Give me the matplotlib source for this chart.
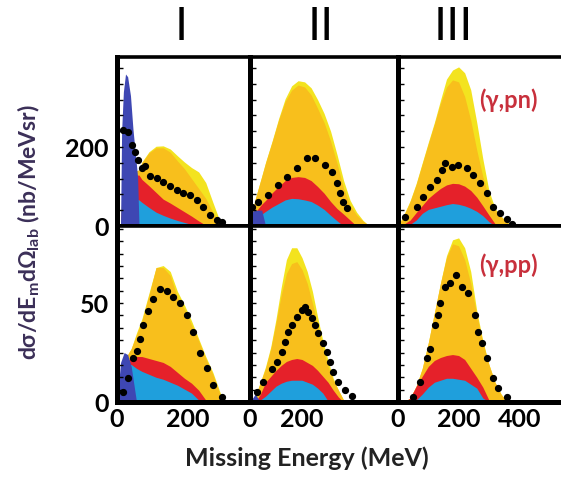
import matplotlib
matplotlib.use("Agg")
import matplotlib.pyplot as plt
from matplotlib.ticker import MultipleLocator, FixedLocator

plt.rcParams['font.family'] = ['Lato', 'DejaVu Sans']
plt.rcParams['mathtext.default'] = 'regular'

# ---- (gamma,pn), column I ----
e_pn1 = [0, 10, 13, 18, 24, 30, 38, 45, 52, 58, 62, 70, 90, 110, 130, 150, 170, 190, 210, 230, 250, 270, 290, 300]
dblue_pn1 = [0, 0, 240, 340, 385, 378, 330, 245, 180, 125, 0, 0, 0, 0, 0, 0, 0, 0, 0, 0, 0, 0, 0, 0]
blue_pn1 = [0, 0, 25, 40, 55, 62, 66, 68, 68, 67, 66, 60, 47, 35, 27, 20, 14, 9, 4, 2, 0, 0, 0, 0]
red_pn1 = [0, 0, 50, 85, 105, 118, 124, 127, 129, 129, 129, 118, 102, 85, 68, 58, 47, 36, 25, 13, 2, 0, 0, 0]
gold_pn1 = [0, 0, 60, 95, 115, 125, 132, 136, 139, 141, 142, 160, 185, 198, 198, 187, 165, 145, 120, 95, 70, 35, 5, 0]
yel_pn1 = [0, 0, 60, 95, 115, 125, 132, 136, 139, 141, 142, 162, 188, 202, 203, 195, 178, 162, 148, 137, 110, 60, 12, 0]
xd_pn1 = [18, 32, 41, 51, 60, 70, 78, 93, 112, 130, 149, 168, 187, 206, 224, 243, 262, 281, 295]
yd_pn1 = [243, 239, 205, 188, 167, 146, 152, 127, 121, 112, 101, 91, 84, 78, 66, 49, 28, 15, 9]

# ---- (gamma,pn), column II ----
e_pn2 = [0, 10, 20, 45, 60, 85, 110, 135, 160, 185, 210, 235, 260, 285, 310, 335, 360, 385, 410, 435, 460]
dblue_pn2 = [0, 38, 40, 40, 0, 0, 0, 0, 0, 0, 0, 0, 0, 0, 0, 0, 0, 0, 0, 0, 0]
blue_pn2 = [0, 0, 15, 30, 37, 48, 57, 66, 70, 69, 66, 62, 53, 42, 27, 13, 0, 0, 0, 0, 0]
red_pn2 = [0, 10, 35, 55, 65, 84, 100, 115, 123, 125, 123, 115, 100, 83, 62, 44, 30, 15, 0, 0, 0]
gold_pn2 = [0, 40, 68, 125, 160, 213, 268, 315, 344, 357, 352, 332, 298, 262, 215, 158, 95, 52, 28, 12, 0]
yel_pn2 = [0, 40, 68, 126, 162, 215, 272, 322, 355, 368, 365, 350, 320, 285, 240, 180, 115, 65, 35, 14, 0]
xd_pn2 = [6, 32, 71, 109, 141, 179, 218, 250, 288, 314, 333, 346, 359, 372]
yd_pn2 = [49, 62, 78, 104, 125, 146, 171, 171, 154, 138, 108, 83, 62, 45]

# ---- (gamma,pn), column III ----
e_pn3 = [0, 20, 40, 60, 80, 100, 120, 140, 160, 180, 200, 220, 240, 260, 280, 300, 320, 340, 360, 380]
dblue_pn3 = [0, 5, 5, 0, 0, 0, 0, 0, 0, 0, 0, 0, 0, 0, 0, 0, 0, 0, 0, 0]
blue_pn3 = [0, 0, 4, 15, 32, 42, 46, 50, 54, 57, 55, 51, 45, 37, 26, 11, 0, 0, 0, 0]
red_pn3 = [0, 5, 15, 34, 52, 70, 83, 95, 104, 108, 107, 101, 90, 73, 51, 28, 6, 0, 0, 0]
gold_pn3 = [0, 28, 62, 105, 157, 208, 258, 310, 352, 370, 365, 328, 268, 192, 125, 72, 41, 24, 9, 0]
yel_pn3 = [0, 30, 64, 108, 160, 212, 262, 318, 372, 395, 403, 388, 345, 262, 170, 90, 45, 25, 10, 0]
xd_pn3 = [22, 62, 84, 106, 128, 144, 155, 177, 199, 227, 249, 271, 293, 315, 337, 359, 375]
yd_pn3 = [24, 49, 74, 100, 116, 142, 159, 150, 154, 146, 129, 108, 83, 49, 32, 17, 4]

# ---- (gamma,pp), column I ----
e_pp1 = [0, 10, 20, 30, 40, 55, 70, 90, 110, 130, 150, 170, 190, 210, 230, 250, 270, 290, 300]
dblue_pp1 = [0, 20, 25, 24, 18, 0, 0, 0, 0, 0, 0, 0, 0, 0, 0, 0, 0, 0, 0]
blue_pp1 = [0, 10, 18, 19, 19, 17, 15.5, 14, 12.5, 11.5, 10, 8.5, 6.5, 4.5, 1, 0, 0, 0, 0]
red_pp1 = [0, 12, 20, 21, 22, 23, 23, 22, 21, 20, 18, 15, 12, 9.5, 6, 1, 0, 0, 0]
gold_pp1 = [0, 14, 21, 24, 27, 34, 41, 54, 68, 68, 64, 53, 47, 39, 31, 22, 14, 4, 0]
yel_pp1 = [0, 14, 21, 24, 27, 35, 42, 55, 68, 69, 66, 56, 49, 41, 32, 23, 15, 5, 0]
xd_pp1 = [18, 32, 45, 55, 65, 74, 88, 102, 121, 140, 159, 177, 196, 215, 234, 253, 271, 295]
yd_pp1 = [5, 12, 22, 26, 32, 39, 46, 52, 57, 56, 53, 50, 44, 35.5, 24.6, 17, 8.6, 2.7]

# ---- (gamma,pp), column II ----
e_pp2 = [0, 20, 40, 60, 80, 100, 120, 140, 160, 180, 200, 220, 240, 260, 280, 300, 320, 340, 360, 380, 400]
dblue_pp2 = [0, 4, 0, 0, 0, 0, 0, 0, 0, 0, 0, 0, 0, 0, 0, 0, 0, 0, 0, 0, 0]
blue_pp2 = [0, 0, 1, 3, 5.5, 8, 9.5, 10.5, 11, 11, 11, 10, 9, 7, 4.5, 0.5, 0, 0, 0, 0, 0]
red_pp2 = [0, 0, 4, 10, 13, 16, 18.5, 20.5, 21.5, 22, 21.5, 20, 18.5, 16, 13, 10, 6, 2.5, 0, 0, 0]
gold_pp2 = [0, 3, 10, 17, 27, 40, 54, 65, 70, 71, 67, 60, 50, 39, 27, 18, 11, 6, 1, 0, 0]
yel_pp2 = [0, 3, 10, 18, 28, 42, 58, 72, 78, 78, 73, 66, 56, 43, 31, 21, 12, 6, 1, 0, 0]
xd_pp2 = [26, 51, 83, 103, 122, 135, 147, 160, 180, 199, 212, 224, 237, 250, 263, 282, 295, 308, 321, 340, 365, 391]
yd_pp2 = [5.2, 10.3, 16.9, 20.4, 25.4, 30.3, 35.4, 38.7, 43.1, 46.5, 48.2, 45.6, 42.3, 38.7, 34.7, 29.6, 25.4, 20.4, 15.4, 10.3, 6.1, 3.2]

# ---- (gamma,pp), column III ----
e_pp3 = [0, 20, 40, 60, 80, 100, 120, 140, 160, 180, 200, 220, 240, 260, 280, 300, 320, 340, 360, 380]
dblue_pp3 = [0] * 20
blue_pp3 = [0, 0, 0, 1, 4, 7.5, 10, 11, 12, 12, 11.5, 11, 9, 7, 2, 0, 0, 0, 0, 0]
red_pp3 = [0, 0, 2, 8, 13, 18, 21, 22.5, 23.5, 24, 23.5, 21.5, 17, 12.5, 7.5, 1, 0, 0, 0, 0]
gold_pp3 = [0, 0, 2, 8, 17, 30, 45, 60, 73, 80, 79, 72, 60, 44, 30, 19, 10, 4, 0, 0]
yel_pp3 = [0, 0, 2, 8, 17, 30, 45, 60, 74, 82, 83, 78, 66, 46, 31, 19, 10, 4, 0, 0]
xd_pp3 = [51, 73, 95, 106, 122, 133, 139, 155, 172, 191, 210, 232, 254, 265, 276, 293, 315, 331, 359]
yd_pp3 = [2.7, 10, 22, 27, 39, 44, 50, 58, 60, 64, 58, 55, 44, 35.5, 30, 22, 12, 7, 2.7]

columns = ['I', 'II', 'III']
reactions = ['(\u03b3,pn)', '(\u03b3,pp)']

c_yel = '#f3e31f'
c_gold = '#f8bf1c'
c_red = '#e5212a'
c_blue = '#1f9fdc'
c_dblue = '#3e47b3'

W, H = 561, 480
fig = plt.figure(figsize=(W / 100, H / 100), dpi=100)

def fx(px):
    return px / W

def fy(py):
    return 1 - py / H

# panel edges in pixels
col_px = [(117, 250), (250, 398), (398, 600)]
row_px = [(57, 226), (226, 402)]
xscale = [0.355, 0.26, 0.303]      # pixels per MeV
ylims = [428, 89]

panels = [
    [(e_pn1, dblue_pn1, blue_pn1, red_pn1, gold_pn1, yel_pn1, xd_pn1, yd_pn1),
     (e_pn2, dblue_pn2, blue_pn2, red_pn2, gold_pn2, yel_pn2, xd_pn2, yd_pn2),
     (e_pn3, dblue_pn3, blue_pn3, red_pn3, gold_pn3, yel_pn3, xd_pn3, yd_pn3)],
    [(e_pp1, dblue_pp1, blue_pp1, red_pp1, gold_pp1, yel_pp1, xd_pp1, yd_pp1),
     (e_pp2, dblue_pp2, blue_pp2, red_pp2, gold_pp2, yel_pp2, xd_pp2, yd_pp2),
     (e_pp3, dblue_pp3, blue_pp3, red_pp3, gold_pp3, yel_pp3, xd_pp3, yd_pp3)],
]

tick_font = dict(family=['Lato', 'DejaVu Sans'], weight='bold', size=18)

for r in range(2):
    for c in range(3):
        x0, x1 = col_px[c]
        y0, y1 = row_px[r]
        ax = fig.add_axes([fx(x0), fy(y1), fx(x1 - x0), (y1 - y0) / H])
        e, db, bl, rd, gd, yl, xd, yd = panels[r][c]
        ax.fill_between(e, 0, yl, color=c_yel, lw=0)
        ax.fill_between(e, 0, gd, color=c_gold, lw=0)
        ax.fill_between(e, 0, rd, color=c_red, lw=0)
        ax.fill_between(e, 0, bl, color=c_blue, lw=0)
        ax.fill_between(e, 0, db, color=c_dblue, lw=0)
        ax.plot(xd, yd, 'o', color='black', ms=4.2, mec='black', zorder=5)

        ax.set_xlim(0, (x1 - x0) / xscale[c])
        ax.set_ylim(0, ylims[r])
        for s in ax.spines.values():
            s.set_linewidth(3.6)
            s.set_color('black')
        ax.spines['top'].set_linewidth(2.6)
        if c == 2:
            ax.spines['right'].set_visible(False)

        ax.tick_params(axis='x', length=0, pad=4)
        ax.set_xticks([0, 200, 400] if c == 2 else [0, 200])
        if r == 0:
            ax.set_xticklabels([])
        else:
            ax.set_xticklabels([str(v) for v in ax.get_xticks()], **tick_font)

        ax.tick_params(axis='y', which='both', direction='in', length=4, width=1, pad=6)
        if r == 0:
            ax.yaxis.set_major_locator(FixedLocator([0, 200]))
            ax.yaxis.set_minor_locator(MultipleLocator(40))
        else:
            ax.yaxis.set_major_locator(FixedLocator([0, 50]))
            ax.yaxis.set_minor_locator(MultipleLocator(6.25))
        if c == 0:
            ax.set_yticklabels([str(int(v)) for v in ax.get_yticks()], **tick_font)
        else:
            ax.set_yticklabels([])

for name, px in zip(columns, [181, 321, 453]):
    fig.text(fx(px), fy(27), name, ha='center', va='center', fontsize=32,
             family='DejaVu Sans', color='black')

for lab, py in zip(reactions, [100, 265]):
    fig.text(fx(479), fy(py), lab, ha='left', va='center', fontsize=17,
             weight='bold', color='#c8303c', family=['Lato', 'DejaVu Sans'])

fig.text(fx(307), fy(458), 'Missing Energy (MeV)', ha='center', va='center',
         fontsize=18, weight='bold', color='#222222')

fig.text(fx(29), fy(232), 'd\u03c3/dE$_{m}$d\u03a9$_{lab}$ (nb/MeVsr)', rotation=90,
         ha='center', va='center', fontsize=16.5, weight='bold', color='#3b2f58',
         family=['Lato', 'DejaVu Sans'])

fig.savefig('out.png', dpi=100)
